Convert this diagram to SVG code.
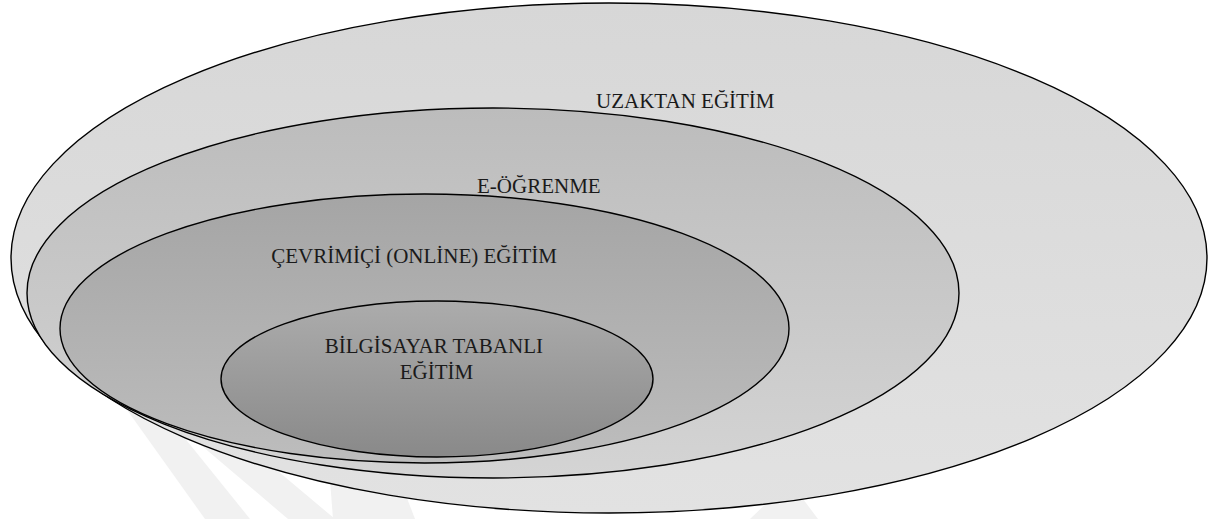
<svg xmlns="http://www.w3.org/2000/svg" width="1214" height="519" viewBox="0 0 1214 519">
  <style>
    .ring { stroke: #000; stroke-width: 1.4; }
    .label { font-size: 21px; fill: #1a1a1a; }
    .mark { fill: #f1f1f1; }
  </style>
  <defs>
    <linearGradient id="g-outer" x1="0" y1="0" x2="0" y2="1">
      <stop offset="0" stop-color="#d7d7d7"/>
      <stop offset="1" stop-color="#e2e2e2"/>
    </linearGradient>
    <linearGradient id="g-elearn" x1="0" y1="0" x2="0" y2="1">
      <stop offset="0" stop-color="#bcbcbc"/>
      <stop offset="1" stop-color="#d4d4d4"/>
    </linearGradient>
    <linearGradient id="g-online" x1="0" y1="0" x2="0" y2="1">
      <stop offset="0" stop-color="#a5a5a5"/>
      <stop offset="1" stop-color="#bdbdbd"/>
    </linearGradient>
    <linearGradient id="g-cbt" x1="0" y1="0" x2="0" y2="1">
      <stop offset="0" stop-color="#acacac"/>
      <stop offset="1" stop-color="#898989"/>
    </linearGradient>
  </defs>

  <rect width="1214" height="519" fill="#ffffff"/>

  <!-- faint background mark, mostly hidden behind the rings -->
  <g id="background-mark">
    <polygon class="mark" points="120,400 150,395 250,519 205,519"/>
    <polygon class="mark" points="195,440 235,435 335,519 288,519"/>
    <polygon class="mark" points="330,480 400,480 415,519 333,519"/>
    <polygon class="mark" points="775,495 800,495 818,519 750,519"/>
  </g>

  <g id="uzaktan-egitim">
    <ellipse class="ring" cx="609" cy="258" rx="598" ry="255" fill="url(#g-outer)"/>
    <text class="label" font-family="Liberation Serif, Times New Roman, serif" x="596" y="108">UZAKTAN EĞİTİM</text>
  </g>

  <g id="e-ogrenme">
    <ellipse class="ring" cx="493" cy="293" rx="466" ry="185" fill="url(#g-elearn)"/>
    <text class="label" font-family="Liberation Serif, Times New Roman, serif" x="477" y="193">E-ÖĞRENME</text>
  </g>

  <g id="cevrimici-egitim">
    <ellipse class="ring" cx="424.5" cy="328.5" rx="364.5" ry="134.5" fill="url(#g-online)"/>
    <text class="label" font-family="Liberation Serif, Times New Roman, serif" x="557" y="263" text-anchor="end">ÇEVRİMİÇİ (ONLİNE) EĞİTİM</text>
  </g>

  <g id="bilgisayar-tabanli-egitim">
    <ellipse class="ring" cx="437" cy="379" rx="216" ry="78" fill="url(#g-cbt)"/>
    <text class="label" font-family="Liberation Serif, Times New Roman, serif" text-anchor="middle">
      <tspan x="436.5" y="353">BİLGİSAYAR TABANLI</tspan>
      <tspan x="436.5" y="379">EĞİTİM</tspan>
    </text>
  </g>
</svg>
